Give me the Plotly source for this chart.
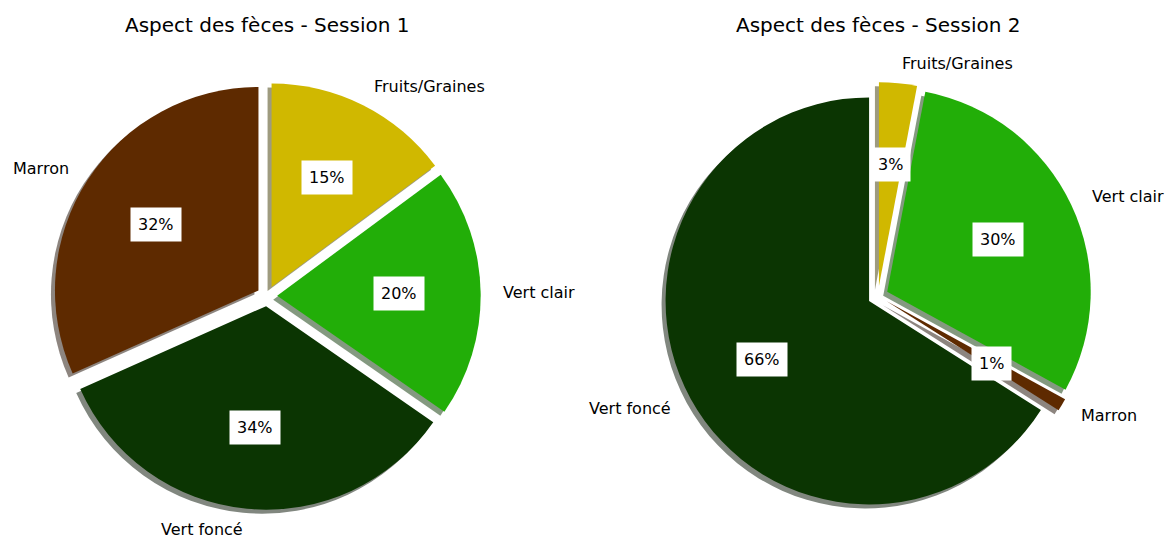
import math
import plotly.graph_objects as go

# data
labels_s1 = ["Marron", "Vert foncé", "Vert clair", "Fruits/Graines"]
values_s1 = [32, 34, 20, 15]

labels_s2 = ["Vert foncé", "Marron", "Vert clair", "Fruits/Graines"]
values_s2 = [66, 1, 30, 3]

titles = ["Aspect des fèces - Session 1", "Aspect des fèces - Session 2"]

# style
W, H = 1169, 538
R = 203.5            # pie radius in px
EXPLODE = 0.05
SHADOW = 4           # px offset of the drop shadow
centers = [(267, 296), (878, 296)]
font = "DejaVu Sans"

colors = {
    "Marron": "#5e2a00",
    "Vert foncé": "#0b3502",
    "Vert clair": "#22ae08",
    "Fruits/Graines": "#d0b800",
}


def shadow_color(hex_col):
    h = hex_col.lstrip("#")
    r, g, b = (int(h[i:i + 2], 16) for i in (0, 2, 4))
    return f"rgba({int(r * 0.3)},{int(g * 0.3)},{int(b * 0.3)},0.5)"


def domain(cx, cy, dx=0, dy=0):
    half = R * (1 + EXPLODE)
    return dict(
        x=[(cx + dx - half) / W, (cx + dx + half) / W],
        y=[1 - (cy + dy + half) / H, 1 - (cy + dy - half) / H],
    )


fig = go.Figure()
annotations = []

for (labels, values, title, (cx, cy)) in [
    (labels_s1, values_s1, titles[0], centers[0]),
    (labels_s2, values_s2, titles[1], centers[1]),
]:
    pulls = [EXPLODE] * len(values)
    total = sum(values)
    # plotly puts the first slice right of 12 o'clock; turn it so it starts
    # at 12 o'clock and runs counterclockwise, like matplotlib startangle=90
    rot = -360 * values[0] / total

    # shadow behind the pie
    fig.add_trace(go.Pie(
        labels=labels, values=values, sort=False, direction="counterclockwise",
        rotation=rot, pull=pulls, textinfo="none", hoverinfo="skip",
        marker=dict(colors=[shadow_color(colors[l]) for l in labels], line=dict(width=0)),
        domain=domain(cx, cy, -SHADOW, SHADOW), showlegend=False,
    ))
    fig.add_trace(go.Pie(
        labels=labels, values=values, sort=False, direction="counterclockwise",
        rotation=rot, pull=pulls, textinfo="none", hoverinfo="label+percent",
        marker=dict(colors=[colors[l] for l in labels], line=dict(width=0)),
        domain=domain(cx, cy), showlegend=False,
    ))

    # labels and percentages, placed like matplotlib's pie
    theta = 90.0
    for lab, v in zip(labels, values):
        frac = v / total
        mid = math.radians(theta + frac * 180)
        theta += frac * 360
        c, s = math.cos(mid), math.sin(mid)
        ox = cx + EXPLODE * R * c
        oy = cy - EXPLODE * R * s
        lx, ly = ox + 1.1 * R * c, oy - 1.1 * R * s
        annotations.append(dict(
            x=lx / W, y=1 - ly / H, xref="paper", yref="paper", text=lab,
            showarrow=False, xanchor="left" if c > 0 else "right", yanchor="middle",
            font=dict(family=font, size=16, color="#000000"),
        ))
        px, py = ox + 0.6 * R * c, oy - 0.6 * R * s
        annotations.append(dict(
            x=px / W, y=1 - py / H, xref="paper", yref="paper",
            text=f"{round(frac * 100)}%", showarrow=False,
            xanchor="center", yanchor="middle", bgcolor="white", borderpad=7,
            font=dict(family=font, size=16, color="#000000"),
        ))

    annotations.append(dict(
        x=cx / W, y=1 - 25 / H, xref="paper", yref="paper", text=title,
        showarrow=False, xanchor="center", yanchor="middle",
        font=dict(family=font, size=20, color="#000000"),
    ))

fig.update_layout(
    width=W, height=H,
    margin=dict(l=0, r=0, t=0, b=0),
    paper_bgcolor="white",
    plot_bgcolor="white",
    showlegend=False,
    annotations=annotations,
)

# drop the page's default body margin so the whole figure fits the window
fig.write_html("out.html", config={"displayModeBar": False},
               post_script="document.body.style.margin = '0';")
